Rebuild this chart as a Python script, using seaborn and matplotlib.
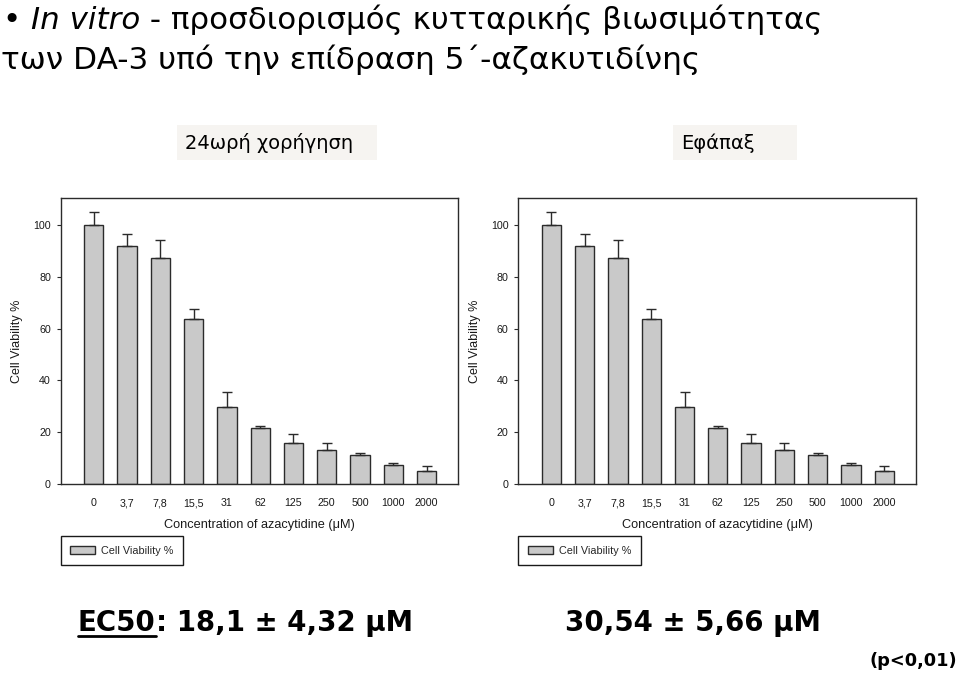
import numpy as np
import pandas as pd
import matplotlib
matplotlib.use("Agg")
import matplotlib.pyplot as plt
import seaborn as sns
from matplotlib.lines import Line2D
from matplotlib.patches import Rectangle

# ---------------- data ----------------
concentrations = ["0", "3,7", "7,8", "15,5", "31", "62", "125", "250", "500", "1000", "2000"]
viability_24h = [100.0, 91.7, 87.3, 63.6, 29.9, 21.5, 16.0, 13.3, 11.3, 7.2, 4.9]
error_24h = [5.1, 4.7, 6.8, 4.0, 5.7, 0.9, 3.2, 2.6, 0.6, 1.0, 1.9]
viability_once = [100.0, 91.7, 87.3, 63.6, 29.9, 21.5, 16.0, 13.3, 11.3, 7.2, 4.9]
error_once = [5.1, 4.7, 6.8, 4.0, 5.7, 0.9, 3.2, 2.6, 0.6, 1.0, 1.9]
y_ticks = [0, 20, 40, 60, 80, 100]

title_line1 = ["• ", "In vitro", " - προσδιορισμός κυτταρικής βιωσιμότητας"]
title_line2 = "των DA-3 υπό την επίδραση 5΄-αζακυτιδίνης"
panel_titles = ["24ωρή χορήγηση", "Εφάπαξ"]
ec50_left = ["EC50", ": 18,1 ± 4,32 μM"]
ec50_right = "30,54 ± 5,66 μM"
p_value = "(p<0,01)"
series_label = "Cell Viability %"
x_label = "Concentration of azacytidine (μM)"

BAR = "#c9c9c9"
EDGE = "#2b2b2b"

sns.set_theme(style="white")
plt.rcParams["font.family"] = ["Liberation Sans", "DejaVu Sans"]

W, H = 960, 674
fig = plt.figure(figsize=(W / 100, H / 100), dpi=100)
fig.patch.set_facecolor("white")


def px_axes(x0, y0, x1, y1):
    return fig.add_axes([x0 / W, 1 - y1 / H, (x1 - x0) / W, (y1 - y0) / H])


ax1 = px_axes(60.7, 198, 458.3, 484)
ax2 = px_axes(518.3, 198, 916, 484)


def panel(ax, vals, errs):
    df = pd.DataFrame({"conc": concentrations, "val": vals})
    sns.barplot(data=df, x="conc", y="val", order=concentrations, color=BAR,
                edgecolor=EDGE, linewidth=1.0, width=0.58, saturation=1,
                errorbar=None, label=series_label, ax=ax, zorder=2)
    x = np.arange(len(concentrations))
    ax.errorbar(x, vals, yerr=[np.zeros(len(vals)), errs], fmt="none",
                ecolor=EDGE, elinewidth=1.0, capsize=3.3, capthick=1.0, zorder=3)
    ax.set_xlim(-0.99, 10.95)
    ax.set_ylim(0, 110.4)
    ax.set_yticks(y_ticks)
    ax.set_yticklabels([str(t) for t in y_ticks])
    ax.set_xticks(x)
    ax.set_xticklabels(concentrations, family="Liberation Sans")
    ax.tick_params(axis="y", left=True, length=3, width=0.8, color=EDGE,
                   labelsize=7.7, pad=4, labelcolor="#1a1a1a")
    ax.tick_params(axis="x", bottom=False, length=0, labelsize=7.7, pad=16,
                   labelcolor="#1a1a1a")
    for lbl in ax.get_xticklabels():
        lbl.set_verticalalignment("baseline")
    for s in ax.spines.values():
        s.set_visible(True)
        s.set_color(EDGE)
        s.set_linewidth(1.0)
    ax.set_ylabel("Cell Viability %", fontsize=9, labelpad=7.5, color="#1a1a1a")
    ax.set_xlabel(x_label, fontsize=9.2, labelpad=8, color="#1a1a1a")
    handles, labels = ax.get_legend_handles_labels()
    leg = ax.legend(handles[:1], labels[:1], loc="upper left",
                    bbox_to_anchor=(0, (484 - 536) / 286), borderaxespad=0,
                    fontsize=7.8, frameon=True, fancybox=False, framealpha=1,
                    edgecolor="#1a1a1a", handlelength=2.3, handleheight=0.75,
                    handletextpad=0.55, borderpad=0.88)
    leg.get_frame().set_linewidth(1.0)


panel(ax1, viability_24h, error_24h)
panel(ax2, viability_once, error_once)

# ---------------- texts ----------------
title_font = ["DejaVu Sans"]


def place_sequence(pieces, x_px, y_px, **common):
    fig.canvas.draw()
    r = fig.canvas.get_renderer()
    x = x_px
    arts = []
    for txt, kw in pieces:
        t = fig.text(x / W, 1 - y_px / H, txt, va="baseline", ha="left", **common, **kw)
        bb = t.get_window_extent(renderer=r)
        x = bb.x1
        arts.append(t)
    return arts


place_sequence([(title_line1[0], {}), (title_line1[1], {"style": "italic"}),
                (title_line1[2], {})], 3, 29, fontsize=22.2, family=title_font,
               color="black")
fig.text(1 / W, 1 - 69 / H, title_line2, va="baseline", ha="left", fontsize=22.4,
         family=title_font, color="black")

# panel title boxes
for (x0, x1), txt in zip([(177, 377), (673, 797)], panel_titles):
    fig.add_artist(Rectangle((x0 / W, 1 - 160 / H), (x1 - x0) / W, 35 / H,
                             transform=fig.transFigure, facecolor="#f6f4f1",
                             edgecolor="none", zorder=0))
    fig.text((x0 + 8) / W, 1 - 143 / H, txt, va="center", ha="left",
             fontsize=14, family=title_font, color="black")

arts = place_sequence([(ec50_left[0], {}), (ec50_left[1], {})], 78, 631,
                      fontsize=19.9, family=title_font, weight="bold", color="black")
fig.canvas.draw()
bb = arts[0].get_window_extent(renderer=fig.canvas.get_renderer())
fig.add_artist(Line2D([bb.x0 / W, bb.x1 / W], [1 - 636 / H, 1 - 636 / H],
                      transform=fig.transFigure, color="black", lw=2))
fig.text(565 / W, 1 - 631 / H, ec50_right, va="baseline", ha="left", fontsize=19.9,
         family=title_font, weight="bold", color="black")
fig.text(957 / W, 1 - 666 / H, p_value, va="baseline", ha="right", fontsize=12.8,
         family=title_font, weight="bold", color="black")

fig.savefig("out.png", dpi=100, facecolor="white")
